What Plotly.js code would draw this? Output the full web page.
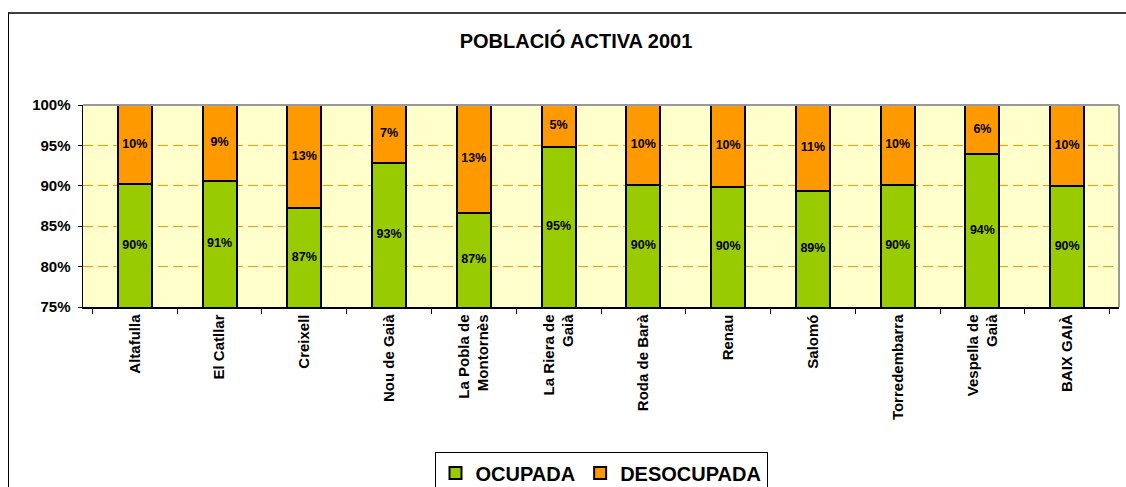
<!DOCTYPE html>
<html>
<head>
<meta charset="utf-8">
<script src="https://cdn.plot.ly/plotly-3.0.1.min.js"></script>
<style>
  html, body { margin: 0; padding: 0; background: #fff; }
  #wrap { position: relative; width: 1126px; height: 487px; overflow: hidden; }
  #chart { position: absolute; left: 0; top: 0; width: 1126px; height: 487px; }
  #frame { position: absolute; left: 8px; top: 12px; width: 1200px; height: 600px;
           border-left: 1.5px solid #000; border-top: 2px solid #404040; pointer-events: none; }
</style>
</head>
<body>
<div id="wrap">
  <div id="chart"></div>
  <div id="frame"></div>
</div>
<script>
const categories = ["Altafulla", "El Catllar", "Creixell", "Nou de Gaià", "La Pobla de<br>Montornès",
  "La Riera de<br>Gaià", "Roda de Barà", "Renau", "Salomó", "Torredembarra", "Vespella de<br>Gaià", "BAIX GAIÀ"];
const ocupada    = [90.2, 90.6, 87.2, 92.8, 86.6, 94.8, 90.1, 89.9, 89.3, 90.1, 93.9, 90.0];
const desocupada = [9.8, 9.4, 12.8, 7.2, 13.4, 5.2, 9.9, 10.1, 10.7, 9.9, 6.1, 10.0];
const yTickVals  = [75, 80, 85, 90, 95, 100];
const yTickText  = ["75%", "80%", "85%", "90%", "95%", "100%"];
const yMin = 75, yMax = 100;

const FONT = "Liberation Sans, Arial, sans-serif";
const pct = v => Math.round(v) + "%";

const traces = [
  {
    type: "bar", name: "OCUPADA", x: categories, y: ocupada,
    marker: { color: "#99CC00", line: { color: "#000", width: 2 } },
    width: 0.4, hoverinfo: "skip"
  },
  {
    type: "bar", name: "DESOCUPADA", x: categories, y: desocupada,
    marker: { color: "#FF9900", line: { color: "#000", width: 2 } },
    width: 0.4, hoverinfo: "skip"
  },
  {
    type: "scatter", mode: "text", showlegend: false, hoverinfo: "skip", cliponaxis: false,
    x: categories.concat(categories),
    y: ocupada.map(v => (yMin + v) / 2).concat(ocupada.map((v, i) => v + desocupada[i] / 2)),
    text: ocupada.map(pct).concat(desocupada.map(pct)),
    textfont: { family: FONT, size: 12.5, color: "#000", weight: "bold" }
  }
];

const layout = {
  width: 1126, height: 487,
  margin: { l: 83, r: 7, t: 105, b: 180, autoexpand: false },
  paper_bgcolor: "rgba(0,0,0,0)",
  plot_bgcolor: "#FFFFCC",
  barmode: "stack",
  showlegend: true,
  font: { family: FONT, color: "#000" },
  title: {
    text: "<b>POBLACIÓ ACTIVA 2001</b>",
    font: { family: FONT, size: 20, color: "#000" },
    xref: "container", x: 576 / 1126, xanchor: "center",
    yref: "container", y: 1 - 41 / 487, yanchor: "middle"
  },
  xaxis: {
    type: "category",
    automargin: false,
    tickangle: -90,
    tickfont: { family: FONT, size: 15, color: "#000", weight: "bold" },
    ticks: "outside", ticklen: 5, tickcolor: "#000", tickwidth: 1,
    tickson: "boundaries",
    showline: true, linecolor: "#000", linewidth: 1.5,
    showgrid: false, zeroline: false, fixedrange: true
  },
  yaxis: {
    automargin: false,
    range: [yMin, yMax],
    tickvals: yTickVals, ticktext: yTickText,
    tickfont: { family: FONT, size: 15, color: "#000", weight: "bold" },
    ticks: "outside", ticklen: 4, tickcolor: "#000",
    ticklabelstandoff: 4,
    showline: true, linecolor: "#000", linewidth: 1.5,
    showgrid: true, gridcolor: "#FF9900", gridwidth: 1, griddash: "10px,5px",
    zeroline: false, fixedrange: true
  },
  legend: {
    orientation: "h",
    x: 0.5, xanchor: "center",
    y: -0.72, yanchor: "top",
    bgcolor: "#fff", bordercolor: "#000", borderwidth: 1,
    font: { family: FONT, size: 20, color: "#000", weight: "bold" },
    traceorder: "normal",
    itemwidth: 30
  },
  shapes: [
    { type: "line", xref: "paper", yref: "paper", x0: 0, x1: 1, y0: 1, y1: 1,
      line: { color: "#999999", width: 2 }, layer: "above" },
    { type: "line", xref: "paper", yref: "paper", x0: 1, x1: 1, y0: 0, y1: 1,
      line: { color: "#999999", width: 2 }, layer: "above" }
  ]
};

Plotly.newPlot("chart", traces, layout, { displayModeBar: false, staticPlot: true });
</script>
</body>
</html>
